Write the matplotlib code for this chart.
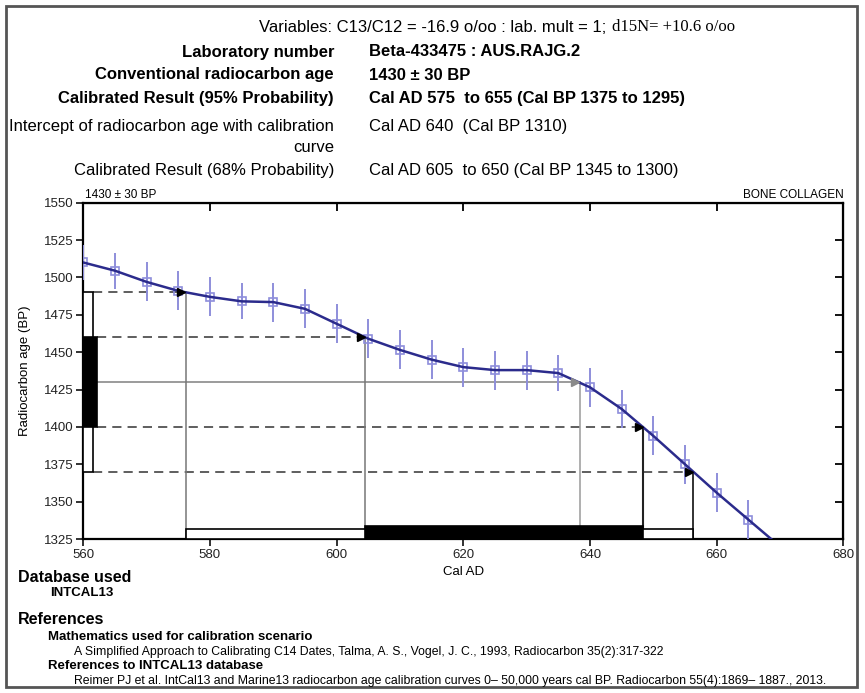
import matplotlib
matplotlib.use("Agg")
import matplotlib.pyplot as plt
from matplotlib.patches import Rectangle

plt.rcParams['font.family'] = ['Liberation Sans', 'DejaVu Sans']

# calibration curve (INTCAL13)
years = [560, 565, 570, 575, 580, 585, 590, 595, 600, 605, 610,
         615, 620, 625, 630, 635, 640, 645, 650, 655, 660, 665]
bp = [1510, 1504.5, 1497, 1491, 1487, 1484, 1483.5, 1479, 1469, 1459, 1451.5,
      1445, 1440, 1438, 1438, 1436, 1426.5, 1412, 1394, 1375, 1356, 1338]
err = [12, 12, 13, 13, 13, 12, 13, 13, 13, 13, 13,
       13, 13, 13, 13, 12, 13, 13, 13, 13, 13, 13]
curve_years = years + [670]
curve_bp = bp + [1320]

age = 1430
bp68 = (1400, 1460)
bp95 = (1370, 1490)
intercept = 638.4
cal68 = (604.5, 648.4)
cal95 = (576.2, 656.3)

xticks = [560, 580, 600, 620, 640, 660, 680]
yticks = [1325, 1350, 1375, 1400, 1425, 1450, 1475, 1500, 1525, 1550]

header_labels = ["Laboratory number", "Conventional radiocarbon age",
                 "Calibrated Result (95% Probability)"]
header_values = ["Beta-433475 : AUS.RAJG.2", "1430 \u00b1 30 BP",
                 "Cal AD 575  to 655 (Cal BP 1375 to 1295)"]

fig = plt.figure(figsize=(8.65, 6.93), dpi=100)
ax = fig.add_axes([83.3 / 865, 1 - 539 / 693, 760 / 865, 336.3 / 693])

# calibration curve
ax.errorbar(years, bp, yerr=err, fmt='none', ecolor='#8e8edb', elinewidth=1.4, zorder=3)
ax.plot(years, bp, 's', ms=6, mfc='none', mec='#8e8edb', mew=1.2, zorder=3)
ax.plot(curve_years, curve_bp, color='#2b2b8c', lw=1.8, zorder=4)

# age bars on the y axis
ax.add_patch(Rectangle((560, bp95[0]), 1.5, bp95[1] - bp95[0], fc='white', ec='black', lw=1.2, zorder=5, clip_on=False))
ax.add_patch(Rectangle((560, bp68[0]), 2.2, bp68[1] - bp68[0], fc='black', ec='black', lw=1.2, zorder=6, clip_on=False))

# horizontal projection lines
dash = dict(color='#333333', lw=1.1, linestyle=(0, (6, 4)), zorder=2)
ax.plot([561.5, cal95[0]], [bp95[1], bp95[1]], **dash)
ax.plot([562.2, cal68[0]], [bp68[1], bp68[1]], **dash)
ax.plot([562.2, cal68[1]], [bp68[0], bp68[0]], **dash)
ax.plot([561.5, cal95[1]], [bp95[0], bp95[0]], **dash)
ax.plot([562.2, intercept], [age, age], color='#8a8a8a', lw=1.2, zorder=2)

# arrow heads
for xe, ye in [(cal95[0], bp95[1]), (cal68[0], bp68[1]), (cal68[1], bp68[0]), (cal95[1], bp95[0])]:
    ax.plot(xe - 0.7, ye, marker='>', ms=6, color='black', zorder=5)
ax.plot(intercept - 0.7, age, marker='>', ms=6, color='#8a8a8a', zorder=5)

# vertical projection lines
ax.plot([cal95[0]] * 2, [1325, bp95[1]], color='#777777', lw=1.1, zorder=2)
ax.plot([cal68[0]] * 2, [1325, bp68[1]], color='#777777', lw=1.1, zorder=2)
ax.plot([intercept] * 2, [1325, age], color='#9a9a9a', lw=1.1, zorder=2)
ax.plot([cal68[1]] * 2, [1325, bp68[0]], color='#222222', lw=1.5, zorder=2)
ax.plot([cal95[1]] * 2, [1325, bp95[0]], color='#222222', lw=1.3, zorder=2)

# calendar range bars
ax.add_patch(Rectangle((cal95[0], 1325), cal95[1] - cal95[0], 6.5, fc='white', ec='black', lw=1.2, zorder=5))
ax.add_patch(Rectangle((cal68[0], 1325), cal68[1] - cal68[0], 9, fc='black', ec='black', lw=1.2, zorder=6))

ax.set_xlim(560, 680)
ax.set_ylim(1325, 1550)
ax.set_xticks(xticks)
ax.set_yticks(yticks)
ax.tick_params(direction='out', length=5, width=1.3, labelsize=9.5, colors='#222222', pad=2)
for s in ax.spines.values():
    s.set_linewidth(1.6)

sx = ax.secondary_xaxis('top')
sx.set_xticks(xticks[1:-1])
sx.tick_params(direction='in', length=6, width=1.3, labeltop=False)
sy = ax.secondary_yaxis('right')
sy.set_yticks(yticks[1:-1])
sy.tick_params(direction='in', length=6, width=1.3, labelright=False)

ax.set_xlabel("Cal AD", fontsize=9.5, labelpad=4)
ax.set_ylabel("Radiocarbon age (BP)", fontsize=9.5, labelpad=9)

ax.text(0.002, 1.005, "1430 \u00b1 30 BP", transform=ax.transAxes, fontsize=8.5, va='bottom', ha='left')
ax.text(1.0, 1.005, "BONE COLLAGEN", transform=ax.transAxes, fontsize=8.5, va='bottom', ha='right')

# header text block (pixel positions converted to figure coordinates)
def ft(x, y, s, **kw):
    fig.text(x / 865, 1 - y / 693, s, va='center', **kw)

ft(259, 27, "Variables: C13/C12 = -16.9 o/oo : lab. mult = 1;", fontsize=12)
ft(612, 27, "d15N= +10.6 o/oo", fontsize=12, family=['Liberation Serif', 'DejaVu Serif'])
for i, (lab, val) in enumerate(zip(header_labels, header_values)):
    yy = 52 + i * 23
    ft(334, yy, lab, fontsize=12, fontweight='bold', ha='right')
    ft(369, yy, val, fontsize=12, fontweight='bold')
ft(334, 127, "Intercept of radiocarbon age with calibration", fontsize=12, ha='right')
ft(334, 148, "curve", fontsize=12, ha='right')
ft(369, 127, "Cal AD 640  (Cal BP 1310)", fontsize=12)
ft(334, 171, "Calibrated Result (68% Probability)", fontsize=12, ha='right')
ft(369, 171, "Cal AD 605  to 650 (Cal BP 1345 to 1300)", fontsize=12)

# footer
ft(18, 577, "Database used", fontsize=11.5, fontweight='bold')
ft(50, 593, "INTCAL13", fontsize=9.5, fontweight='bold')
ft(18, 620, "References", fontsize=11.5, fontweight='bold')
ft(48, 637, "Mathematics used for calibration scenario", fontsize=9.5, fontweight='bold')
ft(74, 652, "A Simplified Approach to Calibrating C14 Dates, Talma, A. S., Vogel, J. C., 1993, Radiocarbon 35(2):317-322", fontsize=8.8)
ft(48, 666, "References to INTCAL13 database", fontsize=9.5, fontweight='bold')
ft(74, 681, "Reimer PJ et al. IntCal13 and Marine13 radiocarbon age calibration curves 0\u2013 50,000 years cal BP. Radiocarbon 55(4):1869\u2013 1887., 2013.", fontsize=8.8)

# outer frame
fig.patches.append(Rectangle((6 / 865, 6 / 693), 851 / 865, 681 / 693, transform=fig.transFigure,
                             fill=False, ec='#555555', lw=2))

fig.savefig("out.png", dpi=100)
